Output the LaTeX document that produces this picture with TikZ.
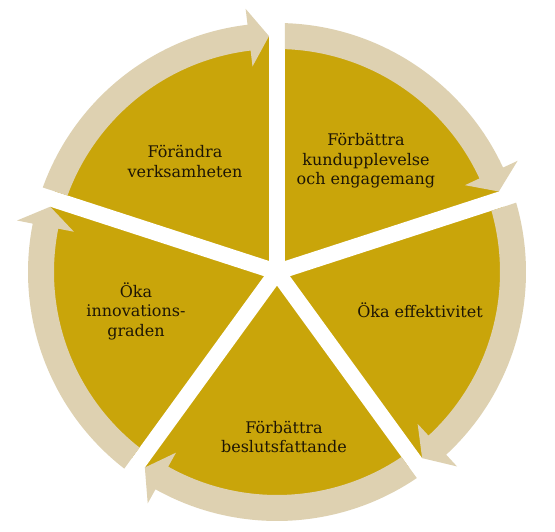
\documentclass[tikz,border=0pt]{standalone}
\usepackage{fontspec}
\setmainfont{DejaVu Serif}
\usetikzlibrary{calc}
\definecolor{gold}{RGB}{201,165,10}
\definecolor{sand}{RGB}{222,209,177}
\definecolor{ink}{RGB}{30,22,5}
\begin{document}
\begin{tikzpicture}[x=1pt,y=1pt,
  lbl/.style={align=center, text=ink, font=\fontsize{16}{19.5}\selectfont, inner sep=0pt},
  gapline/.style={white, line width=16pt},
  band/.style={fill=sand}]
\useasboundingbox (0,0) rectangle (555,532);
\fill[white] (0,0) rectangle (555,532);
\coordinate (C) at (277,260);
\fill[gold] (C) circle[radius=236pt];
\foreach \g in {90,18,-54,-126,162} {
  \coordinate (g\g) at ($(C)+(\g:275pt)$);
  \draw[gapline] (C) -- (g\g);
}
\foreach \gs/\ge in {162/90, 90/18, 18/-54, -54/-126, -126/-198} {
  \pgfmathsetmacro\angSo{\gs-asin(8/249)}
  \pgfmathsetmacro\angSi{\gs-asin(8/223)}
  \pgfmathsetmacro\angTip{\ge+asin(8/236)}
  \pgfmathsetmacro\angBase{\angTip+20/236*180/pi}
  \fill[band] ($(C)+(\angSo:249pt)$) arc[start angle=\angSo, end angle=\angBase, radius=249pt]
    -- ($(C)+(\angBase:265pt)$) -- ($(C)+(\angTip:236pt)$) -- ($(C)+(\angBase:207pt)$)
    -- ($(C)+(\angBase:223pt)$) arc[start angle=\angBase, end angle=\angSi, radius=223pt] -- cycle;
}
\node[lbl] (t1) at (185,370.5) {Förändra\\verksamheten};
\node[lbl] (t2) at (366,371) {Förbättra\\kundupplevelse\\och engagemang};
\node[lbl] (t3) at (420,222) {Öka effektivitet};
\node[lbl] (t4) at (284,95) {Förbättra\\beslutsfattande};
\node[lbl] (t5) at (136,221) {Öka\\innovations-\\graden};
\end{tikzpicture}
\end{document}
